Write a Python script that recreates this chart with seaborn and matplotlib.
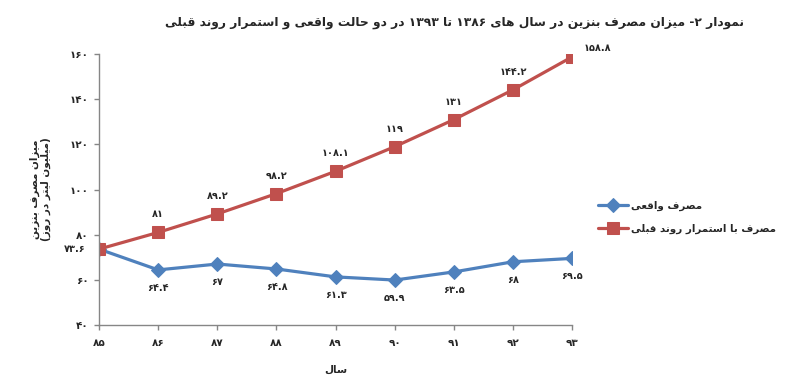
import re
import matplotlib
matplotlib.use("Agg")
import matplotlib.pyplot as plt
import seaborn as sns
import pandas as pd

# data
years = [85, 86, 87, 88, 89, 90, 91, 92, 93]
actual = [73.6, 64.4, 67, 64.8, 61.3, 59.9, 63.5, 68, 69.5]
trend = [73.6, 81, 89.2, 98.2, 108.1, 119, 131, 144.2, 158.8]
y_ticks = [40, 60, 80, 100, 120, 140, 160]

title_txt = "نمودار ۲- میزان مصرف بنزین در سال های ۱۳۸۶ تا ۱۳۹۳ در دو حالت واقعی و استمرار روند قبلی"
ylabel_txt = "میزان مصرف بنزین\n(میلیون لیتر در روز)"
xlabel_txt = "سال"
label_actual = "مصرف واقعی"
label_trend = "مصرف با استمرار روند قبلی"

# --- tiny arabic/persian shaping (no arabic_reshaper in the sandbox) ---
# forms: isolated, final, initial, medial (None -> right-joining only)
FORMS = {
    'ا': (0xFE8D, 0xFE8E, None, None), 'آ': (0xFE81, 0xFE82, None, None),
    'ب': (0xFE8F, 0xFE90, 0xFE91, 0xFE92), 'پ': (0xFB56, 0xFB57, 0xFB58, 0xFB59),
    'ت': (0xFE95, 0xFE96, 0xFE97, 0xFE98), 'ث': (0xFE99, 0xFE9A, 0xFE9B, 0xFE9C),
    'ج': (0xFE9D, 0xFE9E, 0xFE9F, 0xFEA0), 'چ': (0xFB7A, 0xFB7B, 0xFB7C, 0xFB7D),
    'ح': (0xFEA1, 0xFEA2, 0xFEA3, 0xFEA4), 'خ': (0xFEA5, 0xFEA6, 0xFEA7, 0xFEA8),
    'د': (0xFEA9, 0xFEAA, None, None), 'ذ': (0xFEAB, 0xFEAC, None, None),
    'ر': (0xFEAD, 0xFEAE, None, None), 'ز': (0xFEAF, 0xFEB0, None, None),
    'ژ': (0xFB8A, 0xFB8B, None, None),
    'س': (0xFEB1, 0xFEB2, 0xFEB3, 0xFEB4), 'ش': (0xFEB5, 0xFEB6, 0xFEB7, 0xFEB8),
    'ص': (0xFEB9, 0xFEBA, 0xFEBB, 0xFEBC), 'ض': (0xFEBD, 0xFEBE, 0xFEBF, 0xFEC0),
    'ط': (0xFEC1, 0xFEC2, 0xFEC3, 0xFEC4), 'ظ': (0xFEC5, 0xFEC6, 0xFEC7, 0xFEC8),
    'ع': (0xFEC9, 0xFECA, 0xFECB, 0xFECC), 'غ': (0xFECD, 0xFECE, 0xFECF, 0xFED0),
    'ف': (0xFED1, 0xFED2, 0xFED3, 0xFED4), 'ق': (0xFED5, 0xFED6, 0xFED7, 0xFED8),
    'ک': (0xFB8E, 0xFB8F, 0xFB90, 0xFB91), 'گ': (0xFB92, 0xFB93, 0xFB94, 0xFB95),
    'ل': (0xFEDD, 0xFEDE, 0xFEDF, 0xFEE0), 'م': (0xFEE1, 0xFEE2, 0xFEE3, 0xFEE4),
    'ن': (0xFEE5, 0xFEE6, 0xFEE7, 0xFEE8), 'و': (0xFEED, 0xFEEE, None, None),
    'ه': (0xFEE9, 0xFEEA, 0xFEEB, 0xFEEC), 'ی': (0xFBFC, 0xFBFD, 0xFBFE, 0xFBFF),
}
MIRROR = {'(': ')', ')': '('}


def dual(c):
    return c in FORMS and FORMS[c][2] is not None


def shape_line(s):
    out = []
    i = 0
    while i < len(s):
        c = s[i]
        prev = s[i - 1] if i > 0 else ''
        joins_prev = dual(prev)
        if c == 'ل' and i + 1 < len(s) and s[i + 1] == 'ا':
            out.append(chr(0xFEFC if joins_prev else 0xFEFB))
            i += 2
            continue
        if c in FORMS:
            nxt = s[i + 1] if i + 1 < len(s) else ''
            joins_next = dual(c) and nxt in FORMS
            f = FORMS[c]
            if joins_prev and joins_next:
                out.append(chr(f[3]))
            elif joins_prev:
                out.append(chr(f[1]))
            elif joins_next:
                out.append(chr(f[2]))
            else:
                out.append(chr(f[0]))
        else:
            out.append(c)
        i += 1
    vis = ''.join(MIRROR.get(c, c) for c in reversed(out))
    # digit runs go back to left-to-right
    return re.sub(r'[0-9۰-۹]+(?:\.[0-9۰-۹]+)*', lambda m: m.group(0)[::-1], vis)


def fa(s):
    return '\n'.join(shape_line(l) for l in s.split('\n'))


def fa_num(v):
    txt = ('%g' % v)
    return txt.translate(str.maketrans('0123456789', '۰۱۲۳۴۵۶۷۸۹'))


df = pd.DataFrame({
    'year': years * 2,
    'value': actual + trend,
    'series': [label_actual] * len(years) + [label_trend] * len(years),
})

sns.set_style("white")
plt.rcParams['font.family'] = ['DejaVu Sans']
plt.rcParams['font.weight'] = 'bold'

fig, ax = plt.subplots(figsize=(7.86, 3.92), dpi=100)
fig.subplots_adjust(left=0.126, right=0.728, bottom=0.171, top=0.862)

blue = '#4F81BD'
red = '#C0504D'
sns.lineplot(data=df[df['series'] == label_actual], x='year', y='value', color=blue,
             marker='D', markersize=7, markeredgecolor=blue, linewidth=2.3,
             label=fa(label_actual), ax=ax)
sns.lineplot(data=df[df['series'] == label_trend], x='year', y='value', color=red,
             marker='s', markersize=8.5, markeredgecolor=red, linewidth=2.3,
             label=fa(label_trend), ax=ax)

# data labels
lab_fs = 7
for i, (x, v) in enumerate(zip(years, trend)):
    if i == 0:
        ax.annotate(fa_num(v), (x, v), xytext=(-10, 0), textcoords='offset points',
                    ha='right', va='center', fontsize=lab_fs)
    elif i == len(years) - 1:
        ax.annotate(fa_num(v), (x, v), xytext=(8, 6), textcoords='offset points',
                    ha='left', va='center', fontsize=lab_fs)
    else:
        ax.annotate(fa_num(v), (x, v), xytext=(0, 13), textcoords='offset points',
                    ha='center', va='center', fontsize=lab_fs)
for i, (x, v) in enumerate(zip(years, actual)):
    if i == 0:
        continue
    ax.annotate(fa_num(v), (x, v), xytext=(0, -13), textcoords='offset points',
                ha='center', va='center', fontsize=lab_fs)

ax.set_xlim(85, 93)
ax.set_ylim(40, 160)
ax.set_xticks(years)
ax.set_xticklabels([fa_num(y) for y in years], fontsize=7.5)
ax.set_yticks(y_ticks)
ax.set_yticklabels([fa_num(y) for y in y_ticks], fontsize=7.5)
ax.tick_params(axis='both', direction='out', length=3.6, color='#868686', width=1,
               bottom=True, left=True, pad=6)
ax.tick_params(axis='y', pad=4)
for side in ['top', 'right']:
    ax.spines[side].set_visible(False)
for side in ['left', 'bottom']:
    ax.spines[side].set_color('#868686')
    ax.spines[side].set_linewidth(1)

ax.set_xlabel(fa(xlabel_txt), fontsize=7.5, fontweight='bold', labelpad=12)
ax.set_ylabel(fa(ylabel_txt), fontsize=7.5, fontweight='bold', labelpad=13)
fig.suptitle(fa(title_txt), x=0.578, y=0.96, fontsize=8.8, fontweight='bold')

ax.legend(loc='center left', bbox_to_anchor=(1.046, 0.397), frameon=False,
          fontsize=7.4, handlelength=2.9, handletextpad=0.3, labelspacing=1.2,
          borderaxespad=0)

fig.savefig('out.png', dpi=100)
